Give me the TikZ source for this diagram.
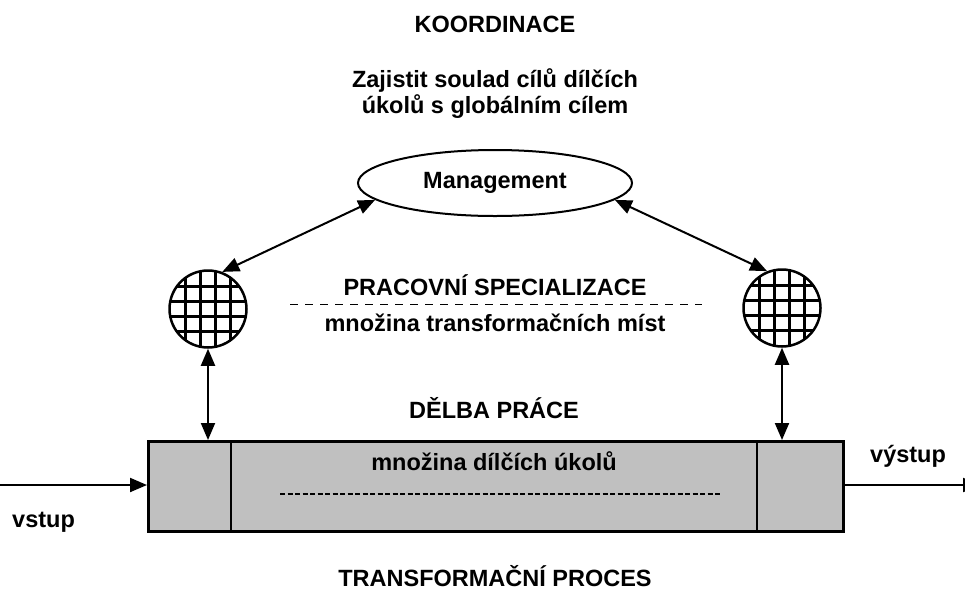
\documentclass[tikz,border=0pt]{standalone}
\usepackage{fontspec}
\setmainfont{Liberation Sans}
\usetikzlibrary{arrows.meta,shapes.geometric}
\definecolor{boxgray}{HTML}{C0C0C0}

\begin{document}
\begin{tikzpicture}[x=1pt,y=-1pt,
  lbl/.style={font=\bfseries\fontsize{23.5}{27}\selectfont, inner sep=0pt, anchor=base},
  conn/.style={line width=2pt, {Triangle[length=17pt,width=14pt]}-{Triangle[length=17pt,width=14pt]}},
  flow/.style={line width=2pt, -{Triangle[length=17pt,width=14pt]}},
  place/.style={circle, draw, line width=2.5pt, minimum size=77pt, inner sep=0pt,
    path picture={
      \foreach \d in {-22.5,-7.5,7.5,22.5} {
        \draw[line width=2.2pt]
          ([xshift=\d pt]path picture bounding box.center) ++(0,-45) -- ++(0,90);
        \draw[line width=2.2pt]
          ([yshift=\d pt]path picture bounding box.center) ++(-45,0) -- ++(90,0);
      }
    }},
  sepline/.style={line width=1pt, dash pattern=on 8pt off 7pt},
  taskline/.style={line width=2pt, dash pattern=on 5pt off 2.5pt},
]
\useasboundingbox (0,0) rectangle (965,592);

% headings
\node[lbl] (coord) at (495,32) {KOORDINACE};
\node[lbl] (goal1) at (495,87) {Zajistit soulad cílů dílčích};
\node[lbl] (goal2) at (495,113) {úkolů s globálním cílem};

% management
\node[ellipse, draw, line width=2pt, minimum width=274pt, minimum height=66pt,
      inner sep=0pt, font=\bfseries\fontsize{23.5}{27}\selectfont] (mg) at (495,183) {Management};

% work places
\node[place] (lc) at (208,309) {};
\node[place] (rc) at (782,308) {};

% specialization labels
\node[lbl] (spec) at (495,295) {PRACOVNÍ SPECIALIZACE};
\draw[sepline] (290,304) -- (702,304);
\node[lbl] (places) at (495,331) {množina transformačních míst};

\node[lbl] (division) at (494,418) {DĚLBA PRÁCE};

% transformation process
\node[draw, fill=boxgray, line width=2.8pt, minimum width=695pt, minimum height=90pt,
      inner sep=0pt, anchor=north west] (proc) at (147,440) {};
\draw[line width=1.5pt] (proc.north west) ++(84,0) -- ++(0,90);
\draw[line width=1.5pt] (proc.north west) ++(610,0) -- ++(0,90);
\node[lbl] (tasks) at (494,470) {množina dílčích úkolů};
\draw[taskline] (280,494) -- (722,494);

% connectors
\draw[conn] (lc.69) -- (mg.188);
\draw[conn] (mg.352) -- (rc.112);
\draw[conn] (lc.south) -- (lc.south |- proc.north);
\draw[conn] (rc.south) -- (rc.south |- proc.north);

\coordinate (in) at (0,485);
\coordinate (out) at (980,485);
\draw[flow] (in) -- (in -| proc.west);
\draw[flow] (in -| proc.east) -- (out);

\node[lbl, anchor=base west] (inlbl) at (12,527) {vstup};
\node[lbl, anchor=base west] (outlbl) at (870,462) {výstup};

\node[lbl] (title) at (495,586) {TRANSFORMAČNÍ PROCES};
\end{tikzpicture}
\end{document}
